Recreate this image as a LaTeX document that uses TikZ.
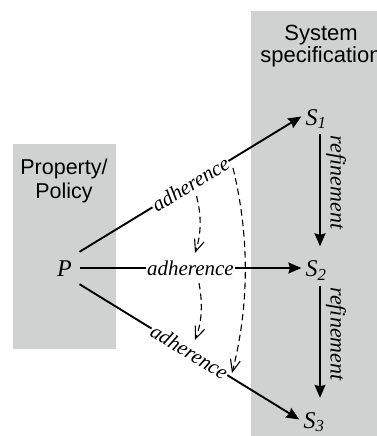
\documentclass[tikz,border=0pt]{standalone}
\usepackage{fontspec}
\setmainfont{Liberation Serif}
\setsansfont{Liberation Sans}
\usetikzlibrary{arrows.meta}
\definecolor{panel}{RGB}{208,209,209}
\begin{document}
\begin{tikzpicture}[x=1pt,y=-1pt,
  heading/.style={font=\sffamily\fontsize{22}{22}\selectfont, align=center, inner sep=0pt},
  term/.style={font=\itshape\fontsize{24}{28}\selectfont, anchor=base,
    inner sep=4pt, text height=19pt, text depth=2pt},
  lab/.style={font=\itshape\fontsize{21}{24}\selectfont, fill=white, inner sep=1pt},
  reflab/.style={font=\itshape\fontsize{22}{24}\selectfont, inner sep=5pt},
  link/.style={line width=1.9pt, -{Stealth[length=13pt,width=11pt,inset=1.5pt]}},
  hint/.style={line width=1.1pt, dash pattern=on 6.5pt off 4pt,
    -{Straight Barb[length=12pt,width=10pt]}}
]
\useasboundingbox (0,0) rectangle (377,436);

% shaded panels
\fill[panel] (13,144) rectangle (116,349);
\fill[panel] (251,11) rectangle (385,445);

% panel headings
\node[heading] (spec) at (321,46.5) {System\\specification};
\node[heading, font=\sffamily\fontsize{21.5}{24}\selectfont] (prop) at (64,180.6) {Property/\\Policy};

% property and specifications
\node[term, inner sep=7.5pt, text height=17pt, text depth=0pt] (P) at (64.5,276.5) {P};
\node[term] (S1) at (316,125) {S\textsubscript{1}};
\node[term] (S2) at (316,276.5) {S\textsubscript{2}};
\node[term] (S3) at (314,428) {S\textsubscript{3}};

% adherence links
\draw[link] (P.north east) -- node[lab, sloped, pos=0.5] {adherence} (S1.west);
\draw[link] (P.east) -- node[lab, sloped, pos=0.5] {adherence} (S2.west);
\draw[link] (P.south east) -- node[lab, sloped, pos=0.5] {adherence} (S3.west);

% refinement chain
\draw[link, shorten <=3pt, shorten >=7pt] ([xshift=4pt]S1.south) --
  node[reflab, sloped, allow upside down, anchor=south, pos=0.42] {refinement}
  ([xshift=4pt]S2.north);
\draw[link, shorten <=3pt, shorten >=7pt] ([xshift=4pt]S2.south) --
  node[reflab, sloped, allow upside down, anchor=south, pos=0.42] {refinement}
  ([xshift=6pt]S3.north);

% implied adherence
\coordinate (d1s) at (196.5,196);
\coordinate (d1e) at (195,253);
\coordinate (d2s) at (199,283);
\coordinate (d2e) at (195,340);
\coordinate (d3s) at (233,168);
\coordinate (d3e) at (232,373);
\draw[hint] (d1s) .. controls (201.5,215) and (201.5,234) .. (d1e);
\draw[hint] (d2s) .. controls (202.5,302) and (202.5,321) .. (d2e);
\draw[hint] (d3s) .. controls (249.5,236) and (249.5,305) .. (d3e);
\end{tikzpicture}
\end{document}
